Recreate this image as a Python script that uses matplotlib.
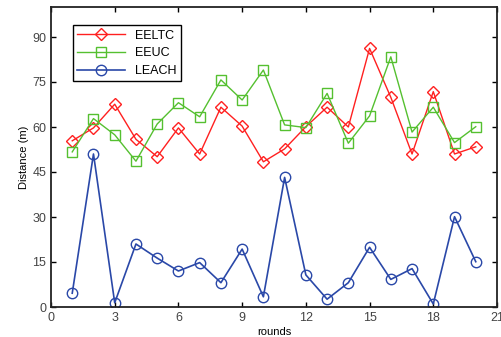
import matplotlib
matplotlib.use("Agg")
import matplotlib.pyplot as plt

plt.rcParams['font.family'] = ['Liberation Sans', 'DejaVu Sans']

rounds = list(range(1, 21))
eeltc = [55.4, 59.7, 67.6, 55.9, 50.1, 59.7, 51.0, 66.6, 60.3, 48.4,
         52.7, 60.1, 66.6, 60.0, 86.2, 69.9, 51.0, 71.8, 51.0, 53.4]
eeuc = [51.7, 62.8, 57.4, 48.6, 61.0, 68.1, 63.4, 75.7, 69.0, 79.0,
        60.7, 59.8, 71.2, 54.6, 63.7, 83.4, 58.3, 66.6, 54.8, 60.1]
leach = [4.6, 51.0, 1.4, 21.0, 16.3, 12.0, 14.8, 8.1, 19.3, 3.4,
         43.2, 10.7, 2.6, 8.1, 19.9, 9.2, 12.8, 1.0, 30.1, 15.1]
xticks = [0, 3, 6, 9, 12, 15, 18, 21]
yticks = [0, 15, 30, 45, 60, 75, 90]

fig = plt.figure(figsize=(5.02, 3.37), dpi=100)
ax = fig.add_axes([51/502, 30/337, 446/502, 300/337])

ax.plot(rounds, eeltc, color="#ff2020", marker="D", markersize=6, mfc="none", lw=1, label="EELTC")
ax.plot(rounds, eeuc, color="#55c030", marker="s", markersize=7, mfc="none", lw=1, label="EEUC")
ax.plot(rounds, leach, color="#2a48a8", marker="o", markersize=7.5, mfc="none", lw=1.2, label="LEACH")

ax.set_xlim(0, 21)
ax.set_ylim(0, 100)
ax.set_xticks(xticks)
ax.set_yticks(yticks)
ax.tick_params(direction="in", top=True, right=True, labelsize=9, labelcolor="#444444", width=1)
for s in ax.spines.values():
    s.set_linewidth(1.3)
    s.set_color("#222222")
ax.set_xlabel("rounds", fontsize=8, labelpad=2)
ax.set_ylabel("Distance (m)", fontsize=8, labelpad=2)

leg = ax.legend(loc="upper left", bbox_to_anchor=(0.035, 0.96), fontsize=9, fancybox=False,
                edgecolor="black", framealpha=1, handlelength=3.8, borderpad=0.35, labelspacing=0.45)
leg.get_frame().set_linewidth(1)

fig.savefig("out.png", dpi=100)
